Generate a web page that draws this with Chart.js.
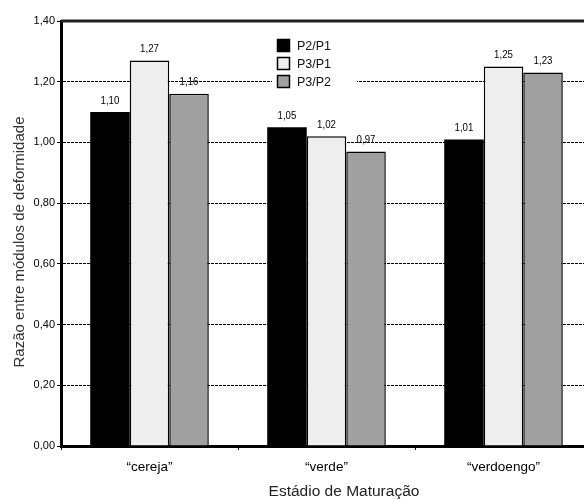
<!DOCTYPE html>
<html>
<head>
<meta charset="utf-8">
<script src="https://cdn.jsdelivr.net/npm/chart.js@4.4.0/dist/chart.umd.min.js"></script>
<style>
  html, body { margin: 0; padding: 0; background: #fff; overflow: hidden; }
  #wrap { width: 600px; height: 500px; }
</style>
</head>
<body>
<div id="wrap"><canvas id="c" width="600" height="500"></canvas></div>
<script>
// data
const categories = ['\u201ccereja\u201d', '\u201cverde\u201d', '\u201cverdoengo\u201d'];
const seriesNames = ['P2/P1', 'P3/P1', 'P3/P2'];
const p2p1 = [1.10, 1.05, 1.01];
const p3p1 = [1.27, 1.02, 1.25];
const p3p2 = [1.16, 0.97, 1.23];
const colors = ['#000000', '#eeeeee', '#a0a0a0'];
const xTitle = 'Estádio de Maturação';
const yTitle = 'Razão entre módulos de deformidade';

const narrow = '"Liberation Sans Narrow", "Liberation Sans", Arial, sans-serif';
const sans = '"Liberation Sans", Arial, sans-serif';

function fmt(v) { return v.toFixed(2).replace('.', ','); }

// value labels on top of the bars (squeezed a bit, like the original)
const valueLabels = {
  id: 'valueLabels',
  afterDatasetsDraw(chart) {
    const ctx = chart.ctx;
    ctx.save();
    ctx.font = '11px ' + narrow;
    ctx.fillStyle = '#000';
    ctx.textAlign = 'center';
    ctx.textBaseline = 'bottom';
    chart.data.datasets.forEach((ds, i) => {
      chart.getDatasetMeta(i).data.forEach((bar, j) => {
        ctx.save();
        ctx.translate(bar.x, bar.y - 6);
        ctx.scale(0.88, 1);
        ctx.fillText(fmt(ds.data[j]), 0, 0);
        ctx.restore();
      });
    });
    ctx.restore();
  }
};

// legend boxes inside the plot + axis titles
const extras = {
  id: 'extras',
  afterDraw(chart) {
    const ctx = chart.ctx;
    ctx.save();
    // legend background hides the grid line behind it
    ctx.fillStyle = '#fff';
    ctx.fillRect(272, 35, 85, 56);

    ctx.font = '12.5px ' + sans;
    ctx.textBaseline = 'middle';
    chart.data.datasets.forEach((ds, i) => {
      const y = 45.5 + i * 18;
      ctx.fillStyle = ds.backgroundColor;
      ctx.fillRect(277.5, y - 6, 12, 12);
      ctx.lineWidth = 1.5;
      ctx.strokeStyle = '#000';
      ctx.strokeRect(277.5, y - 6, 12, 12);
      ctx.fillStyle = '#111';
      ctx.fillText(ds.label, 297, y + 1);
    });

    ctx.fillStyle = '#222';
    ctx.textAlign = 'center';
    ctx.font = '15.5px ' + sans;
    ctx.fillText(xTitle, 344, 492);

    ctx.translate(20, 242);
    ctx.rotate(-Math.PI / 2);
    ctx.font = '15px ' + sans;
    ctx.fillStyle = '#333';
    ctx.fillText(yTitle, 0, 0);
    ctx.restore();
  }
};

// thick top frame line
const topLine = {
  id: 'topLine',
  beforeDatasetsDraw(chart) {
    const a = chart.chartArea, ctx = chart.ctx;
    ctx.save();
    ctx.strokeStyle = '#222';
    ctx.lineWidth = 3;
    ctx.beginPath();
    ctx.moveTo(a.left, a.top);
    ctx.lineTo(a.right, a.top);
    ctx.stroke();
    ctx.restore();
  }
};

new Chart(document.getElementById('c'), {
  type: 'bar',
  data: {
    labels: categories,
    datasets: [
      { label: seriesNames[0], data: p2p1, backgroundColor: colors[0], borderColor: '#000', borderWidth: 0 },
      { label: seriesNames[1], data: p3p1, backgroundColor: colors[1], borderColor: '#000', borderWidth: 1.5 },
      { label: seriesNames[2], data: p3p2, backgroundColor: colors[2], borderColor: '#000', borderWidth: 1.5 }
    ]
  },
  options: {
    responsive: false,
    animation: false,
    layout: { padding: { top: 21, right: 8, left: 0, bottom: 0 } },
    datasets: { bar: { barPercentage: 1, categoryPercentage: 0.67 } },
    plugins: { legend: { display: false }, tooltip: { enabled: false } },
    scales: {
      x: {
        grid: { display: true, drawOnChartArea: false, drawTicks: true, tickLength: 4, tickColor: '#000', offset: true },
        border: { color: '#000', width: 3 },
        ticks: { color: '#000', font: { family: sans, size: 13.5 }, padding: 9 },
        afterFit(s) { s.height = 54; }
      },
      y: {
        min: 0, max: 1.4,
        ticks: { stepSize: 0.2, color: '#000', font: { family: narrow, size: 11 }, padding: 2, callback: v => fmt(v) },
        grid: { color: '#000', lineWidth: 1, tickLength: 4, tickColor: '#000', tickBorderDash: [] },
        border: { color: '#000', width: 3, dash: [3, 1] },
        afterFit(s) { s.width = 61; }
      }
    }
  },
  plugins: [topLine, valueLabels, extras]
});
</script>
</body>
</html>
